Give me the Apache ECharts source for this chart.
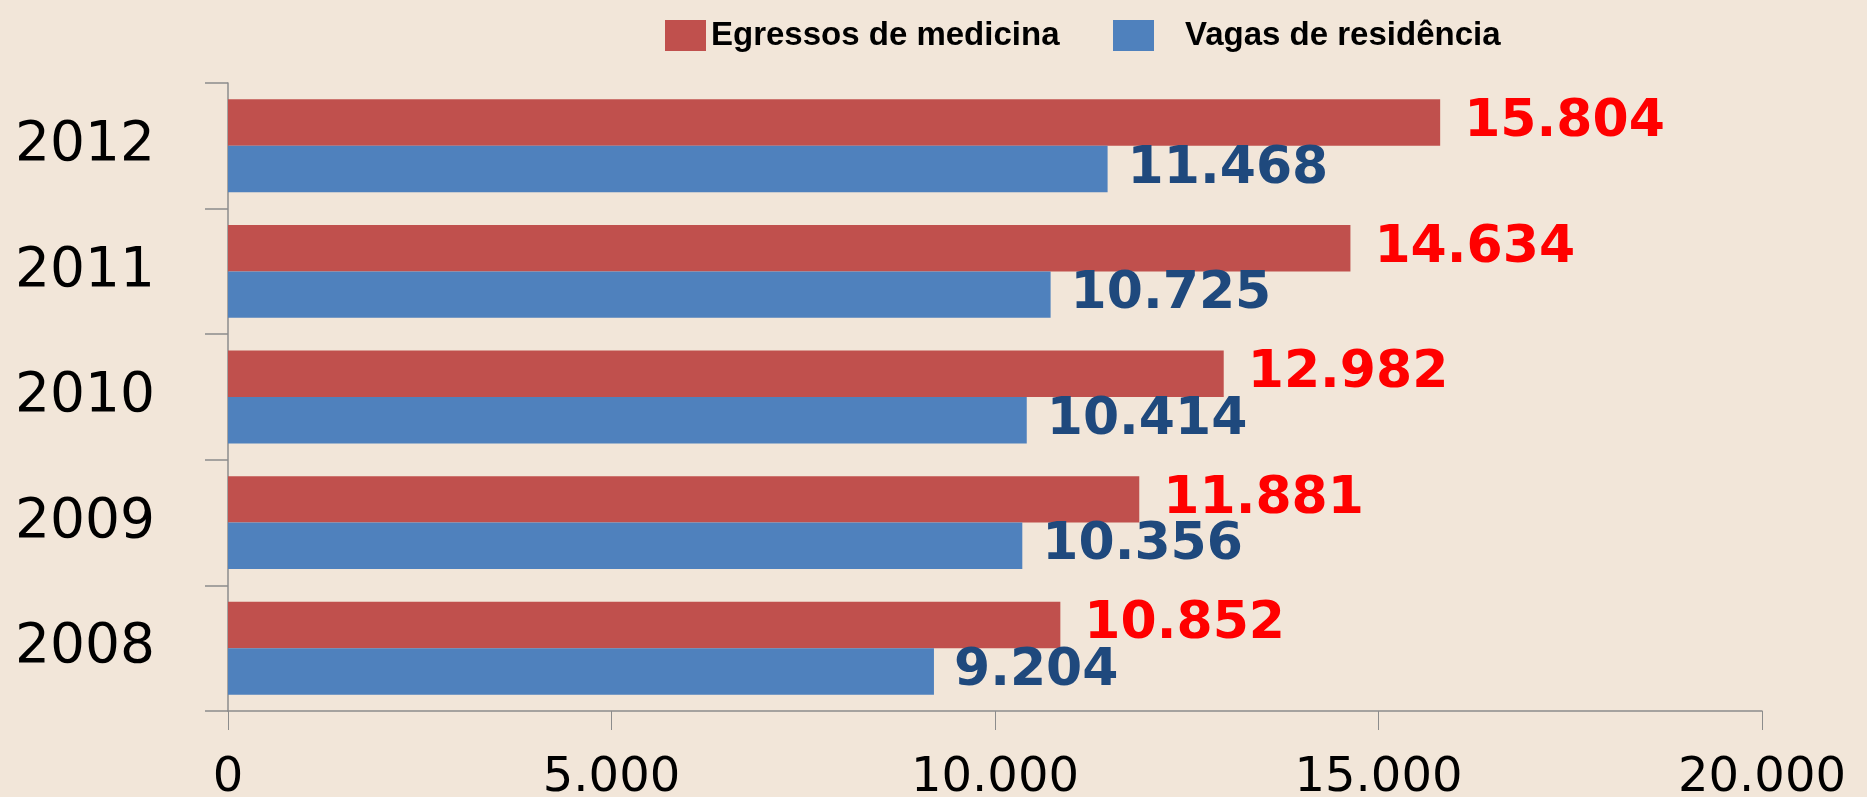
<!DOCTYPE html>
<html>
<head>
<meta charset="utf-8">
<script src="https://cdn.jsdelivr.net/npm/echarts@6/dist/echarts.min.js"></script>
<style>
  html, body { margin: 0; padding: 0; background: #f2e6d9; }
  #main { width: 1867px; height: 797px; }
</style>
</head>
<body>
<div id="main"></div>
<script>
var anos = ['2008', '2009', '2010', '2011', '2012'];
var egressos = [10852, 11881, 12982, 14634, 15804];
var vagas = [9204, 10356, 10414, 10725, 11468];
var ticksX = [0, 5000, 10000, 15000, 20000];

function milhar(v) {
  return String(v).replace(/\B(?=(\d{3})+(?!\d))/g, '.');
}

var myChart = echarts.init(document.getElementById('main'));
var legendTexto = { fontFamily: 'Liberation Sans', fontWeight: 'bold', fontSize: 33, color: '#000' };
var option = {
  backgroundColor: '#f2e6d9',
  animation: false,
  legend: [{
    data: ['Egressos de medicina'],
    icon: 'rect',
    left: 660, top: 14,
    itemWidth: 41, itemHeight: 31,
    itemGap: 10,
    textStyle: legendTexto
  }, {
    data: ['Vagas de residência'],
    icon: 'rect',
    left: 1108, top: 14,
    itemWidth: 41, itemHeight: 31,
    textStyle: Object.assign({ padding: [0, 0, 0, 26] }, legendTexto)
  }],
  grid: { left: 228, right: 105, top: 83, bottom: 86, containLabel: false, outerBoundsMode: 'none' },
  xAxis: {
    type: 'value',
    min: ticksX[0], max: ticksX[ticksX.length - 1], interval: 5000,
    axisLine: { show: true, lineStyle: { color: '#8c8c8c', width: 1.5 } },
    axisTick: { show: true, length: 19, lineStyle: { color: '#8c8c8c' } },
    splitLine: { show: false },
    axisLabel: {
      margin: 44,
      fontFamily: 'DejaVu Sans', fontSize: 48, color: '#000',
      formatter: function (v) { return milhar(v); }
    }
  },
  yAxis: {
    type: 'category',
    data: anos,
    axisLine: { show: true, lineStyle: { color: '#8c8c8c', width: 1.5 } },
    axisTick: { show: true, length: 23, lineStyle: { color: '#8c8c8c', width: 1.5 } },
    axisLabel: { margin: 73, fontFamily: 'DejaVu Sans', fontSize: 55, color: '#000' }
  },
  series: [{
    name: 'Egressos de medicina',
    type: 'bar',
    data: egressos,
    barGap: '0%',
    barCategoryGap: '26%',
    itemStyle: { color: '#c0504d' },
    label: {
      show: true, position: 'right', distance: 24,
      fontFamily: 'DejaVu Sans', fontWeight: 'bold', fontSize: 52, color: '#ff0000',
      formatter: function (p) { return milhar(p.value); }
    }
  }, {
    name: 'Vagas de residência',
    type: 'bar',
    data: vagas,
    barGap: '0%',
    barCategoryGap: '26%',
    itemStyle: { color: '#4f81bd' },
    label: {
      show: true, position: 'right', distance: 20,
      fontFamily: 'DejaVu Sans', fontWeight: 'bold', fontSize: 52, color: '#1f497d',
      formatter: function (p) { return milhar(p.value); }
    }
  }]
};
myChart.setOption(option);
</script>
</body>
</html>
